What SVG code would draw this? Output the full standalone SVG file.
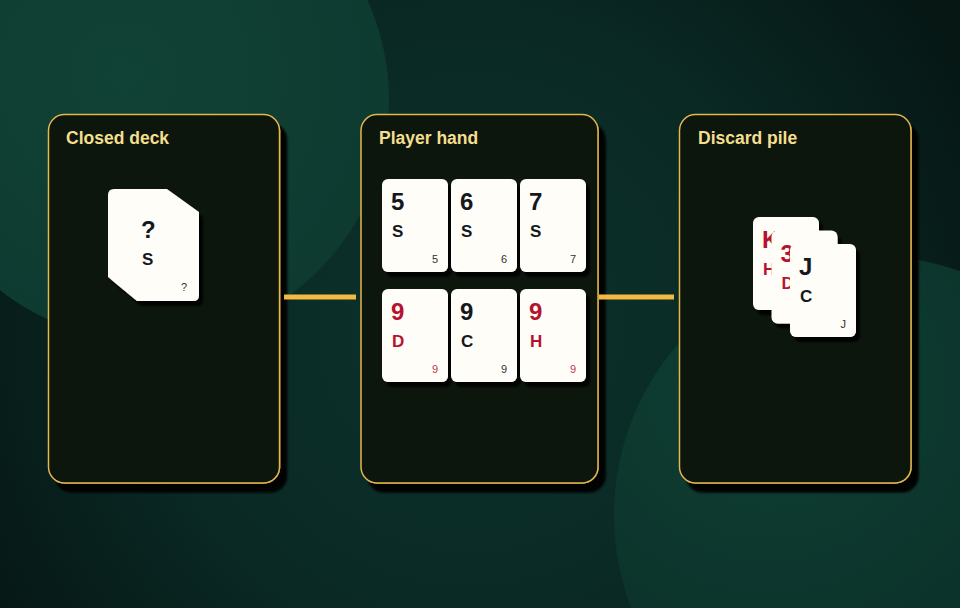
<svg xmlns="http://www.w3.org/2000/svg" width="960" height="608" viewBox="0 0 960 608">
  <defs>
    <radialGradient id="bg" gradientUnits="userSpaceOnUse" cx="470" cy="330" r="560">
      <stop offset="0" stop-color="#0c322b"/>
      <stop offset="0.55" stop-color="#0a2925"/>
      <stop offset="1" stop-color="#061714"/>
    </radialGradient>
    <radialGradient id="circA" cx="0.45" cy="0.45" r="0.6">
      <stop offset="0" stop-color="#114236"/>
      <stop offset="1" stop-color="#0e3a30"/>
    </radialGradient>
    <radialGradient id="circB" cx="0.3" cy="0.25" r="0.8">
      <stop offset="0" stop-color="#0f4034"/>
      <stop offset="1" stop-color="#0a2c26"/>
    </radialGradient>
    <filter id="pshadow" x="-10%" y="-10%" width="130%" height="130%">
      <feDropShadow dx="7" dy="9" stdDeviation="1.3" flood-color="#000" flood-opacity="0.95"/>
    </filter>
    <filter id="cshadow" x="-20%" y="-20%" width="150%" height="150%">
      <feDropShadow dx="4" dy="5" stdDeviation="1" flood-color="#000" flood-opacity="0.9"/>
    </filter>
    <style>
      .panel { fill: #0a1210; stroke: #e5b84e; stroke-width: 1.5; filter: url(#pshadow); }
      .title { font-family: "Liberation Sans", Arial, sans-serif; font-weight: bold; font-size: 17.5px; fill: #f4df8e; }
      .card { fill: #fffdf8; filter: url(#cshadow); }
      .rank { font-family: "Liberation Sans", Arial, sans-serif; font-weight: bold; font-size: 24px; }
      .suit { font-family: "Liberation Sans", Arial, sans-serif; font-weight: bold; font-size: 17px; }
      .small { font-family: "Liberation Sans", Arial, sans-serif; font-size: 11px; text-anchor: end; }
      .dark { fill: #14181c; }
      .red { fill: #b5122e; }
      .sdark { fill: #333333; }
      .sred { fill: #c2344c; }
      .conn { stroke: #f4b942; stroke-width: 5; fill: none; }
    </style>
  </defs>

  <!-- background -->
  <rect width="960" height="608" fill="url(#bg)"/>
  <circle cx="148" cy="100" r="241" fill="url(#circA)"/>
  <circle cx="873" cy="515" r="259" fill="url(#circB)"/>

  <!-- Closed deck -->
  <g id="node-closed-deck">
    <rect class="panel" x="48.5" y="114.5" width="231" height="368.5" rx="16"/>
    <text class="title" x="66" y="144">Closed deck</text>
    <g id="card-closed">
      <path class="card" d="M114,189 H167 L199,212 V295 Q199,301 193,301 H137 L108,277 V195 Q108,189 114,189 Z"/>
      <text class="rank dark" x="141" y="238">?</text>
      <text class="suit dark" x="142" y="265">S</text>
      <text class="small sdark" x="187" y="291">?</text>
    </g>
  </g>

  <!-- Player hand -->
  <g id="node-player-hand">
    <rect class="panel" x="361" y="114.5" width="237" height="368.5" rx="16"/>
    <text class="title" x="379" y="144">Player hand</text>
    <g id="card-5s">
      <rect class="card" x="382" y="179" width="66" height="93" rx="6"/>
      <text class="rank dark" x="391" y="210">5</text>
      <text class="suit dark" x="392" y="237">S</text>
      <text class="small sdark" x="438" y="263">5</text>
    </g>
    <g id="card-6s">
      <rect class="card" x="451" y="179" width="66" height="93" rx="6"/>
      <text class="rank dark" x="460" y="210">6</text>
      <text class="suit dark" x="461" y="237">S</text>
      <text class="small sdark" x="507" y="263">6</text>
    </g>
    <g id="card-7s">
      <rect class="card" x="520" y="179" width="66" height="93" rx="6"/>
      <text class="rank dark" x="529" y="210">7</text>
      <text class="suit dark" x="530" y="237">S</text>
      <text class="small sdark" x="576" y="263">7</text>
    </g>
    <g id="card-9d">
      <rect class="card" x="382" y="289" width="66" height="93" rx="6"/>
      <text class="rank red" x="391" y="320">9</text>
      <text class="suit red" x="392" y="347">D</text>
      <text class="small sred" x="438" y="373">9</text>
    </g>
    <g id="card-9c">
      <rect class="card" x="451" y="289" width="66" height="93" rx="6"/>
      <text class="rank dark" x="460" y="320">9</text>
      <text class="suit dark" x="461" y="347">C</text>
      <text class="small sdark" x="507" y="373">9</text>
    </g>
    <g id="card-9h">
      <rect class="card" x="520" y="289" width="66" height="93" rx="6"/>
      <text class="rank red" x="529" y="320">9</text>
      <text class="suit red" x="530" y="347">H</text>
      <text class="small sred" x="576" y="373">9</text>
    </g>
  </g>

  <!-- Discard pile -->
  <g id="node-discard-pile">
    <rect class="panel" x="679.5" y="114.5" width="231.5" height="368.5" rx="16"/>
    <text class="title" x="698" y="144">Discard pile</text>
    <g id="card-kh">
      <rect class="card" x="753" y="217" width="66" height="93" rx="6"/>
      <text class="rank red" x="762" y="248">K</text>
      <text class="suit red" x="763" y="275">H</text>
    </g>
    <g id="card-3d">
      <rect class="card" x="771.5" y="230.5" width="66" height="93" rx="6"/>
      <text class="rank red" x="780.5" y="261.5">3</text>
      <text class="suit red" x="781.5" y="288.5">D</text>
    </g>
    <g id="card-jc">
      <rect class="card" x="790" y="244" width="66" height="93" rx="6"/>
      <text class="rank dark" x="799" y="275">J</text>
      <text class="suit dark" x="800" y="302">C</text>
      <text class="small sdark" x="846" y="328">J</text>
    </g>
  </g>

  <!-- connectors -->
  <g id="connectors">
    <line class="conn" x1="284" y1="297" x2="356" y2="297"/>
    <line class="conn" x1="599" y1="297" x2="674" y2="297"/>
  </g>
</svg>
